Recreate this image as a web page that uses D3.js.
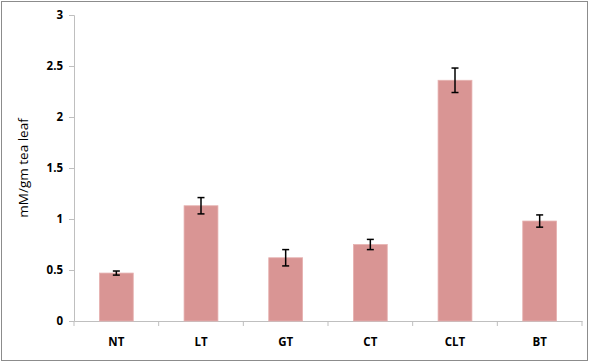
<!DOCTYPE html>
<html>
<head>
<meta charset="utf-8">
<script src="https://cdn.jsdelivr.net/npm/d3@7"></script>
<style>
  body { margin: 0; background: #fff; }
  text { font-family: "Open Sans", "Liberation Sans", sans-serif; }
</style>
</head>
<body>
<div id="container"></div>
<script>
// data
const categories = ["NT", "LT", "GT", "CT", "CLT", "BT"];
const values = [0.47, 1.13, 0.62, 0.75, 2.36, 0.98];
const errors = [0.02, 0.08, 0.08, 0.05, 0.12, 0.06];
const yTicks = [0, 0.5, 1, 1.5, 2, 2.5, 3];

const width = 590, height = 363;
const margin = { top: 15, right: 8, bottom: 42, left: 74 };

const svg = d3.select("div#container").append("svg")
    .attr("width", width)
    .attr("height", height);

// outer border
svg.append("rect")
    .attr("x", 1.5).attr("y", 1.5)
    .attr("width", width - 4).attr("height", height - 4)
    .attr("fill", "none")
    .attr("stroke", "#8c8c8c")
    .attr("stroke-width", 1);

const x = d3.scaleBand()
    .domain(categories)
    .range([margin.left, width - margin.right])
    .paddingInner(0.6)
    .paddingOuter(0.3);

const y = d3.scaleLinear()
    .domain([0, 3])
    .range([height - margin.bottom, margin.top]);

// y axis
const yAxis = svg.append("g")
    .attr("transform", `translate(${margin.left},0)`)
    .call(d3.axisLeft(y).tickValues(yTicks).tickSize(5).tickPadding(6).tickFormat(d3.format("")));
yAxis.select(".domain").attr("stroke", "#bfbfbf");
yAxis.selectAll(".tick line").attr("stroke", "#bfbfbf");
yAxis.selectAll(".tick text")
    .attr("font-size", 11.5)
    .attr("font-weight", "bold")
    .attr("fill", "#000");

// x axis with ticks between categories
const xAxis = svg.append("g")
    .attr("transform", `translate(0,${y(0)})`)
    .call(d3.axisBottom(x).tickSize(0).tickPadding(17));
xAxis.select(".domain").attr("stroke", "#bfbfbf");
xAxis.selectAll(".tick text")
    .attr("font-size", 11.5)
    .attr("font-weight", "bold")
    .attr("fill", "#000");
const step = x.step();
const edges = categories.map((d, i) => x(d) - x.paddingInner() * step / 2).concat([width - margin.right]);
xAxis.selectAll("line.sep")
    .data(edges)
    .enter().append("line")
    .attr("class", "sep")
    .attr("x1", d => d).attr("x2", d => d)
    .attr("y1", 0).attr("y2", 5)
    .attr("stroke", "#bfbfbf");

// bars
svg.selectAll("rect.bar")
    .data(categories)
    .enter().append("rect")
    .attr("class", "bar")
    .attr("x", d => x(d))
    .attr("y", (d, i) => y(values[i]))
    .attr("width", x.bandwidth())
    .attr("height", (d, i) => y(0) - y(values[i]))
    .attr("fill", "#d99594")
    .attr("stroke", "#e6b2b1")
    .attr("stroke-width", 0.8);

// error bars
const eb = svg.selectAll("g.err")
    .data(categories)
    .enter().append("g")
    .attr("class", "err")
    .attr("stroke", "#000")
    .attr("stroke-width", 1.5);
const cx = d => x(d) + x.bandwidth() / 2;
eb.append("line")
    .attr("x1", cx).attr("x2", cx)
    .attr("y1", (d, i) => y(values[i] + errors[i]))
    .attr("y2", (d, i) => y(values[i] - errors[i]));
eb.append("line")
    .attr("x1", d => cx(d) - 3.5).attr("x2", d => cx(d) + 3.5)
    .attr("y1", (d, i) => y(values[i] + errors[i]))
    .attr("y2", (d, i) => y(values[i] + errors[i]));
eb.append("line")
    .attr("x1", d => cx(d) - 3.5).attr("x2", d => cx(d) + 3.5)
    .attr("y1", (d, i) => y(values[i] - errors[i]))
    .attr("y2", (d, i) => y(values[i] - errors[i]));

// y label
svg.append("text")
    .attr("transform", `translate(24,${(y(0) + y(3)) / 2}) rotate(-90)`)
    .attr("text-anchor", "middle")
    .attr("dominant-baseline", "middle")
    .attr("font-size", 13.5)
    .attr("fill", "#000")
    .text("mM/gm tea leaf");
</script>
</body>
</html>
